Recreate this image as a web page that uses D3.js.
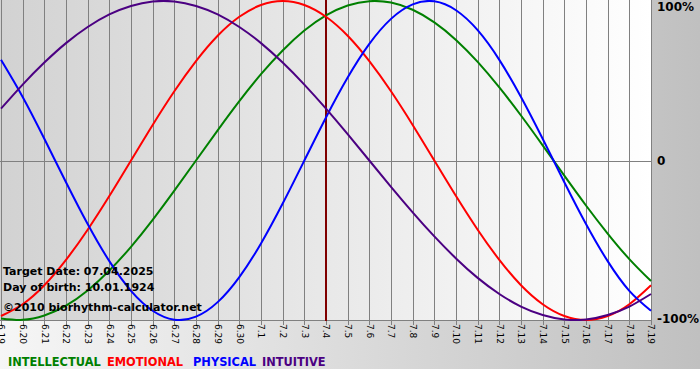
<!DOCTYPE html>
<html lang="en">
<head>
    <meta charset="UTF-8">
    <title>Biorhythm</title>
    <style type="text/css">
        * {
            margin: 0;
            padding: 0;
        }

        body {
            background: #fff;
        }

        #chart-area {
            width: 700px;
            height: 380px;
        }

        text {
            font-family: "DejaVu Sans", Verdana, sans-serif;
        }
    </style>
</head>
<body>
<div id="chart-area"></div>
<script src="https://cdn.jsdelivr.net/npm/d3@7"></script>
<script type="text/javascript">

  // days shown on the x axis
  const days = ['6.19', '6.20', '6.21', '6.22', '6.23', '6.24', '6.25', '6.26', '6.27', '6.28', '6.29', '6.30',
    '7.1', '7.2', '7.3', '7.4', '7.5', '7.6', '7.7', '7.8', '7.9', '7.10', '7.11', '7.12', '7.13',
    '7.14', '7.15', '7.16', '7.17', '7.18', '7.19']
  const targetDay = '7.4'

  // daily values, -1..1
  const intellectual = [-0.990, -0.999, -0.972, -0.910, -0.815, -0.690, -0.541, -0.372, -0.189, 0.000, 0.189, 0.372,
    0.541, 0.690, 0.815, 0.910, 0.972, 0.999, 0.990, 0.945, 0.866, 0.756, 0.618, 0.458, 0.282, 0.095,
    -0.095, -0.282, -0.458, -0.618, -0.756]
  const emotional = [-0.975, -0.901, -0.782, -0.623, -0.434, -0.223, 0.000, 0.223, 0.434, 0.623, 0.782, 0.901,
    0.975, 1.000, 0.975, 0.901, 0.782, 0.623, 0.434, 0.223, 0.000, -0.223, -0.434, -0.623, -0.782, -0.901,
    -0.975, -1.000, -0.975, -0.901, -0.782]
  const physical = [0.631, 0.398, 0.136, -0.136, -0.398, -0.631, -0.817, -0.942, -0.998, -0.979, -0.888, -0.731,
    -0.520, -0.270, 0.000, 0.270, 0.520, 0.731, 0.888, 0.979, 0.998, 0.942, 0.817, 0.631, 0.398, 0.136,
    -0.136, -0.398, -0.631, -0.817, -0.942]
  const intuitive = [0.325, 0.476, 0.614, 0.736, 0.837, 0.916, 0.969, 0.997, 0.997, 0.969, 0.916, 0.837,
    0.736, 0.614, 0.476, 0.325, 0.165, 0.000, -0.165, -0.325, -0.476, -0.614, -0.736, -0.837, -0.916, -0.969,
    -0.997, -0.997, -0.969, -0.916, -0.837]

  const yTicks = [1, 0, -1]
  const yTickLabels = ['100%', '0', '-100%']

  const infoLines = ['Target Date: 07.04.2025', 'Day of birth: 10.01.1924', '\u00a92010 biorhythm-calculator.net']

  const seriesNames = ['INTELLECTUAL', 'EMOTIONAL', 'PHYSICAL', 'INTUITIVE']
  const seriesColors = ['#008000', '#ff0000', '#0000ff', '#4b0082']
  const seriesData = [intellectual, emotional, physical, intuitive]

  const W = 700
  const PLOT = {LEFT: 0, TOP: 0, RIGHT: 651, BOTTOM: 321}

  const svg = d3.select('#chart-area').append('svg')
    .attr('width', W)
    .attr('height', 380)

  const defs = svg.append('defs')
  const outerGrad = defs.append('linearGradient').attr('id', 'outer-grad')
  outerGrad.append('stop').attr('offset', '0%').attr('stop-color', '#f6f6f6')
  outerGrad.append('stop').attr('offset', '100%').attr('stop-color', '#c0c0c0')
  const plotGrad = defs.append('linearGradient').attr('id', 'plot-grad')
  plotGrad.append('stop').attr('offset', '0%').attr('stop-color', '#d2d2d2')
  plotGrad.append('stop').attr('offset', '100%').attr('stop-color', '#ffffff')
  defs.append('clipPath').attr('id', 'plot-clip')
    .append('rect')
    .attr('x', PLOT.LEFT).attr('y', PLOT.TOP)
    .attr('width', PLOT.RIGHT - PLOT.LEFT + 1).attr('height', PLOT.BOTTOM - PLOT.TOP)

  svg.append('rect')
    .attr('width', W).attr('height', 369)
    .attr('fill', 'url(#outer-grad)')

  svg.append('rect')
    .attr('x', PLOT.LEFT).attr('y', PLOT.TOP)
    .attr('width', PLOT.RIGHT - PLOT.LEFT).attr('height', PLOT.BOTTOM - PLOT.TOP)
    .attr('fill', 'url(#plot-grad)')

  const x = d3.scalePoint().domain(days).range([1, PLOT.RIGHT])
  const y = d3.scaleLinear().domain([-1, 1]).range([PLOT.BOTTOM - 1, 1])

  // vertical grid + rotated day labels
  const xAxisCall = d3.axisBottom(x).tickSizeInner(PLOT.BOTTOM + 4).tickSizeOuter(0)
  svg.append('g').attr('class', 'x-axis')
    .call(xAxisCall)
    .call(g => g.select('.domain').remove())
    .call(g => g.selectAll('.tick line')
      .attr('stroke', '#808080')
      .attr('shape-rendering', 'crispEdges'))
    .call(g => g.selectAll('.tick text')
      .attr('transform', `translate(0, ${PLOT.BOTTOM + 3}) rotate(90)`)
      .attr('x', 0).attr('y', 0).attr('dy', '0.35em')
      .attr('text-anchor', 'start')
      .attr('font-size', '9px')
      .attr('font-family', '"DejaVu Sans", Verdana, sans-serif')
      .attr('fill', '#000'))

  // horizontal lines at 0 and bottom
  svg.append('g')
    .selectAll('line')
    .data([0, -1])
    .join('line')
    .attr('x1', PLOT.LEFT).attr('x2', PLOT.RIGHT)
    .attr('y1', d => Math.round(y(d)) + 0.5).attr('y2', d => Math.round(y(d)) + 0.5)
    .attr('stroke', '#808080')

  // right side labels
  const yAxisCall = d3.axisRight(y).tickValues(yTicks)
    .tickFormat((d, i) => yTickLabels[i]).tickSize(0)
  svg.append('g').attr('class', 'y-axis')
    .attr('transform', `translate(${PLOT.RIGHT + 6}, 0)`)
    .call(yAxisCall)
    .call(g => g.select('.domain').remove())
    .call(g => g.selectAll('.tick text')
      .attr('x', 0)
      .attr('font-size', '12px')
      .attr('font-weight', 'bold')
      .attr('font-family', '"DejaVu Sans", Verdana, sans-serif')
      .attr('fill', '#000'))
  svg.selectAll('.y-axis .tick text').filter(d => d === 1).attr('dy', '0.8em')
  svg.selectAll('.y-axis .tick text').filter(d => d === -1).attr('dy', '0.2em')

  // target day marker
  svg.append('line')
    .attr('x1', x(targetDay)).attr('x2', x(targetDay))
    .attr('y1', PLOT.TOP).attr('y2', PLOT.BOTTOM)
    .attr('stroke', '#800000')
    .attr('stroke-width', 2)

  const line = d3.line()
    .x((d, i) => x(days[i]))
    .y(d => y(d))
    .curve(d3.curveNatural)

  svg.append('g').attr('clip-path', 'url(#plot-clip)')
    .selectAll('path')
    .data(seriesData)
    .join('path')
    .attr('d', d => line(d))
    .attr('fill', 'none')
    .attr('stroke', (d, i) => seriesColors[i])
    .attr('stroke-width', 2)

  // info text
  svg.append('g')
    .selectAll('text')
    .data(infoLines)
    .join('text')
    .attr('x', 3)
    .attr('y', (d, i) => [275, 291, 311][i])
    .attr('font-size', '11px')
    .attr('font-weight', 'bold')
    .attr('fill', '#000')
    .text(d => d)

  // legend
  const legendX = [8, 107, 193, 262]
  svg.append('g')
    .selectAll('text')
    .data(seriesNames)
    .join('text')
    .attr('x', (d, i) => legendX[i])
    .attr('y', 366)
    .attr('font-size', '11.4px')
    .attr('font-weight', 'bold')
    .attr('fill', (d, i) => seriesColors[i])
    .text(d => d)

</script>
</body>
</html>
